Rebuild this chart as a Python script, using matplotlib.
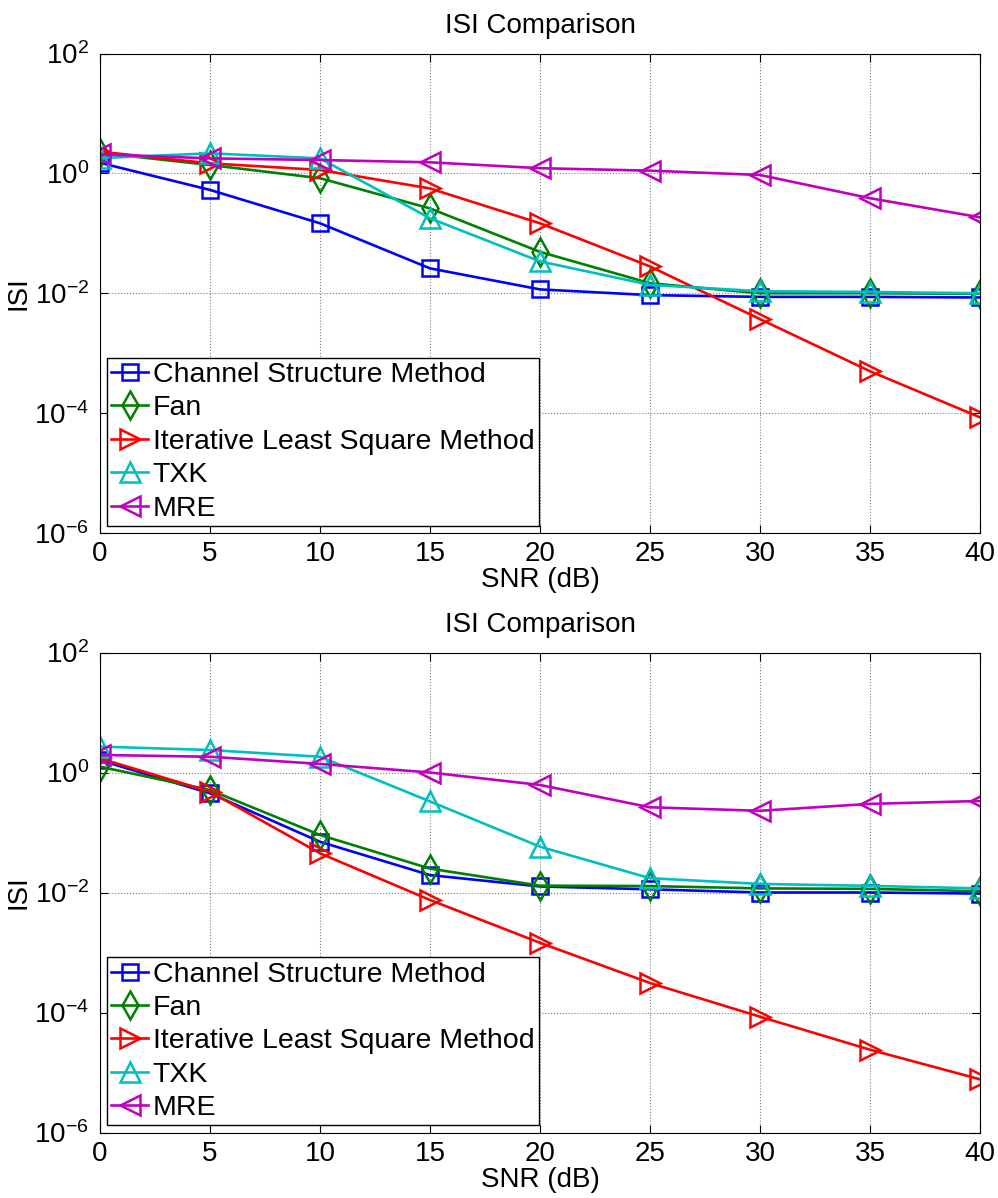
import matplotlib
matplotlib.use("Agg")
import matplotlib.pyplot as plt
from matplotlib.ticker import NullLocator, FixedLocator

plt.rcParams['font.family'] = ['Liberation Sans', 'DejaVu Sans']
plt.rcParams['mathtext.default'] = 'regular'

snr = [0, 5, 10, 15, 20, 25, 30, 35, 40]
labels = ["Channel Structure Method", "Fan", "Iterative Least Square Method", "TXK", "MRE"]

# top panel
csm_top = [1.5, 0.53, 0.147, 0.026, 0.0116, 0.0093, 0.0087, 0.0087, 0.0085]
fan_top = [2.2, 1.38, 0.83, 0.26, 0.049, 0.0147, 0.0100, 0.0100, 0.0098]
ils_top = [2.3, 1.47, 1.14, 0.56, 0.147, 0.028, 0.0037, 0.0005, 8.5e-5]
txk_top = [1.8, 2.16, 1.78, 0.178, 0.034, 0.0138, 0.0108, 0.0105, 0.0100]
mre_top = [2.08, 1.78, 1.67, 1.53, 1.22, 1.11, 0.94, 0.385, 0.185]

# bottom panel
csm_bot = [1.6, 0.45, 0.07, 0.0195, 0.0126, 0.0113, 0.0100, 0.0100, 0.0096]
fan_bot = [1.25, 0.51, 0.091, 0.025, 0.013, 0.0128, 0.0117, 0.0115, 0.0105]
ils_bot = [1.72, 0.48, 0.045, 0.0075, 0.00145, 3.1e-4, 8.5e-5, 2.4e-5, 7.7e-6]
txk_bot = [2.7, 2.37, 1.83, 0.33, 0.058, 0.0173, 0.0139, 0.0129, 0.0117]
mre_bot = [1.96, 1.83, 1.39, 1.0, 0.62, 0.263, 0.23, 0.30, 0.335]

colors = [(0, 0, 1), (0, 0.5, 0), (1, 0, 0), (0, 0.75, 0.75), (0.75, 0, 0.75)]
markers = ["s", "d", ">", "^", "<"]
msizes = [11, 14, 14, 14, 14]
fs = 20

fig = plt.figure(figsize=(9.98, 11.98), dpi=100)
ax_top = fig.add_axes([100 / 998, 1 - 533 / 1198, 880 / 998, 479.5 / 1198])
ax_bot = fig.add_axes([100 / 998, 1 - 1132.5 / 1198, 880 / 998, 480 / 1198])

panels = [
    (ax_top, [csm_top, fan_top, ils_top, txk_top, mre_top]),
    (ax_bot, [csm_bot, fan_bot, ils_bot, txk_bot, mre_bot]),
]

for ax, series in panels:
    for i, vals in enumerate(series):
        ax.plot(snr, vals, color=colors[i], marker=markers[i], markersize=msizes[i],
                markerfacecolor="none", markeredgecolor=colors[i], markeredgewidth=1.8,
                linewidth=1.9, label=labels[i])
    ax.set_yscale("log")
    ax.set_xlim(0, 40)
    ax.set_ylim(1e-6, 1e2)
    ax.xaxis.set_major_locator(FixedLocator(snr))
    ax.yaxis.set_major_locator(FixedLocator([1e-6, 1e-4, 1e-2, 1e0, 1e2]))
    ax.yaxis.set_minor_locator(NullLocator())
    ax.tick_params(direction="in", top=True, right=True, length=6, width=0.8, labelsize=fs)
    ax.tick_params(axis="x", pad=6)
    ax.tick_params(axis="y", pad=8)
    ax.grid(True, linestyle=":", color="0.5", linewidth=0.8)
    for sp in ax.spines.values():
        sp.set_linewidth(0.8)
    ax.set_title("ISI Comparison", fontsize=fs, pad=15)
    ax.set_xlabel("SNR (dB)", fontsize=fs, labelpad=0)
    ax.set_ylabel("ISI", fontsize=fs)
    ax.yaxis.set_label_coords(-0.078, 0.5)
    leg = ax.legend(loc="lower left", fontsize=fs + 0.5, fancybox=False, framealpha=1,
                    edgecolor="black", borderaxespad=0.25, borderpad=0.15,
                    labelspacing=0.26, handlelength=1.3, handletextpad=0.15)
    leg.get_frame().set_linewidth(1.0)

fig.savefig("out.png", dpi=100)
